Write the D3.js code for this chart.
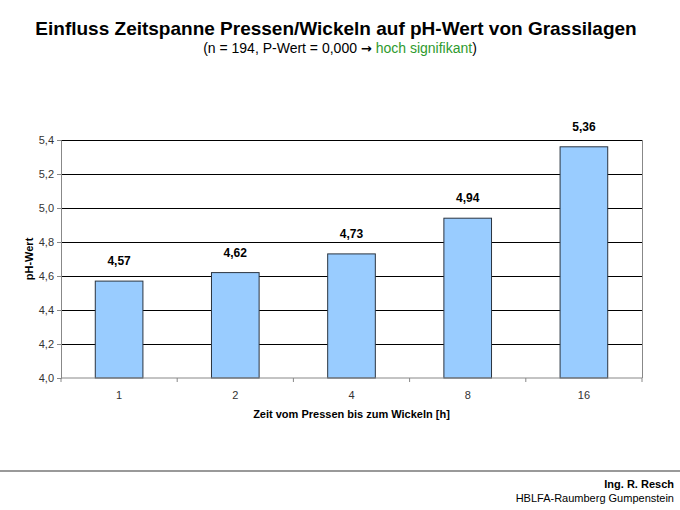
<!DOCTYPE html>
<html>
<head>
<meta charset="utf-8">
<script src="https://cdn.jsdelivr.net/npm/d3@7"></script>
<style>
  body { margin: 0; background: #fff; }
  svg { display: block; overflow: visible; font-family: "Liberation Sans", Arial, sans-serif; }
</style>
</head>
<body>
<svg id="chart" width="680" height="510"></svg>
<script>
// Data
const hours = ['1', '2', '4', '8', '16'];
const phValues = [4.57, 4.62, 4.73, 4.94, 5.36];
const yTicks = [4.0, 4.2, 4.4, 4.6, 4.8, 5.0, 5.2, 5.4];

const svg = d3.select('#chart');
const margin = { top: 140, right: 38, bottom: 132, left: 61 };
const width = 680, height = 510;
const innerWidth = width - margin.left - margin.right;
const innerHeight = height - margin.top - margin.bottom;
const fmt = v => d3.format('.1f')(v).replace('.', ',');
const fmt2 = v => d3.format('.2f')(v).replace('.', ',');

// Titles
svg.append('text')
  .attr('x', 336).attr('y', 35)
  .attr('text-anchor', 'middle')
  .attr('font-size', '19px').attr('font-weight', 'bold')
  .attr('fill', '#000')
  .text('Einfluss Zeitspanne Pressen/Wickeln auf pH-Wert von Grassilagen');

const sub = svg.append('text')
  .attr('x', 340).attr('y', 53)
  .attr('text-anchor', 'middle')
  .attr('font-size', '14px')
  .attr('fill', '#000');
sub.append('tspan').text('(n = 194, P-Wert = 0,000 ');
sub.append('tspan').attr('font-weight', 'bold').attr('font-family', '"DejaVu Sans", sans-serif').attr('font-size', '13px').text('\u2192');
sub.append('tspan').text(' ');
sub.append('tspan').attr('fill', '#2e9a2e').text('hoch signifikant');
sub.append('tspan').text(')');

const g = svg.append('g')
  .attr('transform', `translate(${margin.left},${margin.top})`);

// Scales
const x = d3.scaleBand()
  .domain(hours)
  .range([0, innerWidth])
  .paddingInner(0.59)
  .paddingOuter(0.295);

const y = d3.scaleLinear()
  .domain([4.0, 5.4])
  .range([innerHeight, 0]);

// Grid lines
g.append('g')
  .attr('class', 'grid')
  .call(d3.axisLeft(y).tickValues(yTicks.slice(1)).tickSize(-innerWidth).tickFormat(''))
  .call(s => s.select('.domain').remove())
  .selectAll('line')
  .attr('stroke', '#000')
  .attr('stroke-width', 1);

// Right border
g.append('line')
  .attr('x1', innerWidth + 0.5).attr('x2', innerWidth + 0.5)
  .attr('y1', 0).attr('y2', innerHeight)
  .attr('stroke', '#888');

// Y axis
g.append('g')
  .call(d3.axisLeft(y).tickValues(yTicks).tickSize(4).tickFormat(fmt))
  .call(s => s.select('.domain').attr('stroke', '#888'))
  .call(s => s.selectAll('.tick line').attr('stroke', '#888'))
  .selectAll('text')
  .attr('font-size', '11px')
  .attr('font-family', '"Liberation Sans", Arial, sans-serif')
  .attr('fill', '#333');

// Bars
g.selectAll('.bar')
  .data(phValues)
  .enter()
  .append('rect')
  .attr('class', 'bar')
  .attr('x', (d, i) => x(hours[i]))
  .attr('width', x.bandwidth())
  .attr('y', d => y(d))
  .attr('height', d => innerHeight - y(d))
  .attr('fill', '#99ccff')
  .attr('stroke', '#2a3440')
  .attr('stroke-width', 1);

// Value labels
g.selectAll('.val')
  .data(phValues)
  .enter()
  .append('text')
  .attr('x', (d, i) => x(hours[i]) + x.bandwidth() / 2)
  .attr('y', d => y(d) - 16)
  .attr('text-anchor', 'middle')
  .attr('font-size', '12px').attr('font-weight', 'bold')
  .attr('fill', '#000')
  .text(fmt2);

// X axis
const step = x.step();
const xAxis = g.append('g')
  .attr('transform', `translate(0,${innerHeight})`);
xAxis.append('line')
  .attr('x1', 0).attr('x2', innerWidth)
  .attr('stroke', '#888');
xAxis.selectAll('.sep')
  .data(d3.range(hours.length + 1))
  .enter()
  .append('line')
  .attr('x1', i => i * step).attr('x2', i => i * step)
  .attr('y1', 0).attr('y2', 4)
  .attr('stroke', '#888');
xAxis.selectAll('.lbl')
  .data(hours)
  .enter()
  .append('text')
  .attr('x', d => x(d) + x.bandwidth() / 2)
  .attr('y', 21)
  .attr('text-anchor', 'middle')
  .attr('font-size', '11px')
  .attr('fill', '#333')
  .text(d => d);

// Axis titles
svg.append('text')
  .attr('x', margin.left + innerWidth / 2)
  .attr('y', 418)
  .attr('text-anchor', 'middle')
  .attr('font-size', '11px').attr('font-weight', 'bold')
  .text('Zeit vom Pressen bis zum Wickeln [h]');

svg.append('text')
  .attr('transform', 'translate(33,259) rotate(-90)')
  .attr('text-anchor', 'middle')
  .attr('font-size', '11px').attr('font-weight', 'bold')
  .text('pH-Wert');

// Footer
svg.append('line')
  .attr('x1', 0).attr('x2', width)
  .attr('y1', 471).attr('y2', 471)
  .attr('stroke', '#777').attr('stroke-width', 1.5);

svg.append('text')
  .attr('x', 674).attr('y', 488)
  .attr('text-anchor', 'end')
  .attr('font-size', '11px').attr('font-weight', 'bold')
  .text('Ing. R. Resch');

svg.append('text')
  .attr('x', 674).attr('y', 502)
  .attr('text-anchor', 'end')
  .attr('font-size', '11px')
  .text('HBLFA-Raumberg Gumpenstein');
</script>
</body>
</html>
